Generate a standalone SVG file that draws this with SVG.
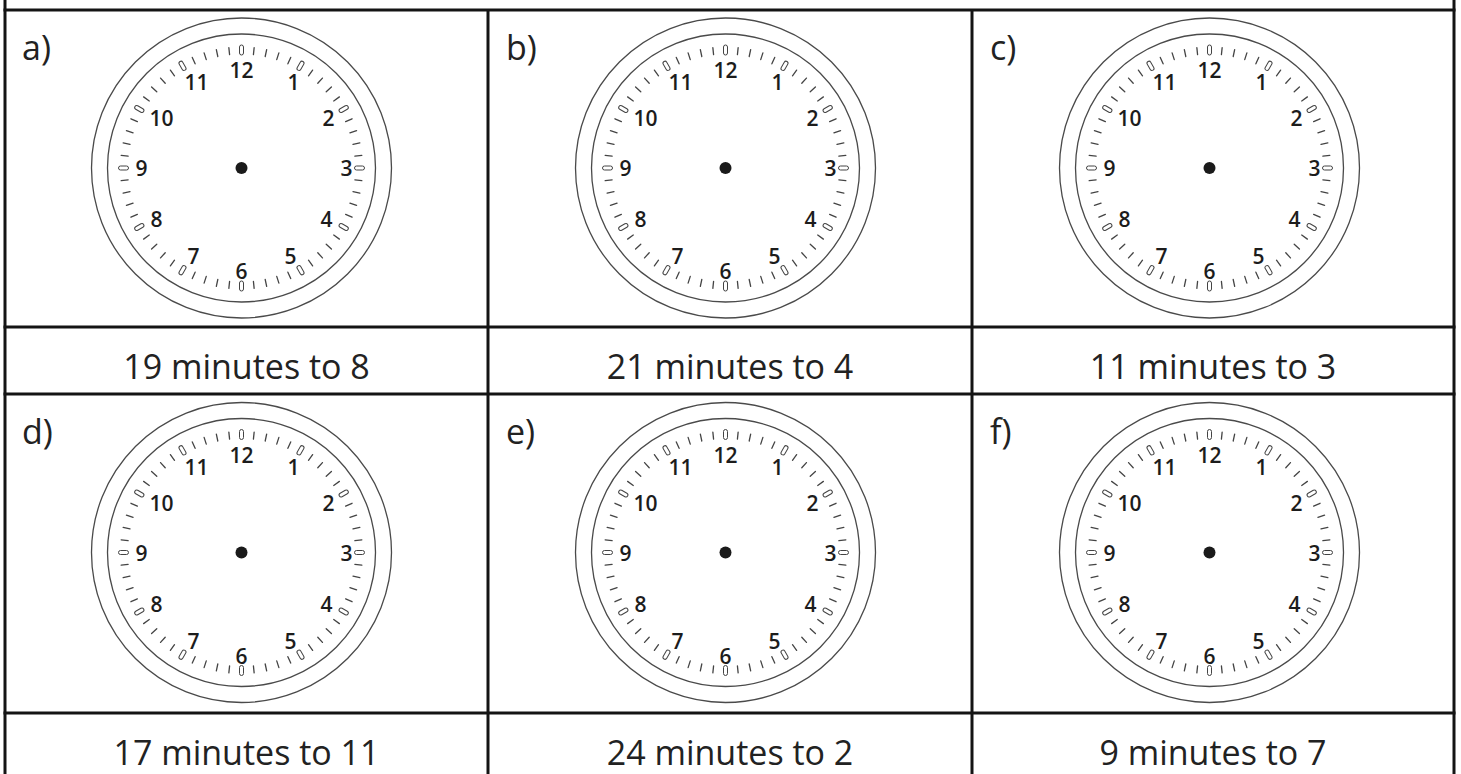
<svg xmlns="http://www.w3.org/2000/svg" xmlns:xlink="http://www.w3.org/1999/xlink" width="1461" height="774" viewBox="0 0 1461 774">
<style>
.grid{stroke:#141414;stroke-width:3;fill:none}
.ring{fill:none;stroke:#4a4a4a;stroke-width:1.3}
.mt{stroke:#444;stroke-width:1.3;stroke-linecap:round}
.ht{fill:none;stroke:#444;stroke-width:1}
.num{font-family:"Open Sans","Noto Sans",sans-serif;font-weight:600;font-size:21px;fill:#1c1c1c;text-anchor:middle}
.lbl{font-family:"Open Sans","Noto Sans",sans-serif;font-size:34px;fill:#222;text-anchor:middle}
.let{font-family:"Open Sans","Noto Sans",sans-serif;font-size:34px;fill:#222}
</style>
<defs>
<g id="face">
<circle class="ring" r="150"/>
<circle class="ring" r="134"/>
<g class="mt">
<line x1="0" y1="-114" x2="0" y2="-121" transform="rotate(6)"/>
<line x1="0" y1="-114" x2="0" y2="-121" transform="rotate(12)"/>
<line x1="0" y1="-114" x2="0" y2="-121" transform="rotate(18)"/>
<line x1="0" y1="-114" x2="0" y2="-121" transform="rotate(24)"/>
<line x1="0" y1="-114" x2="0" y2="-121" transform="rotate(36)"/>
<line x1="0" y1="-114" x2="0" y2="-121" transform="rotate(42)"/>
<line x1="0" y1="-114" x2="0" y2="-121" transform="rotate(48)"/>
<line x1="0" y1="-114" x2="0" y2="-121" transform="rotate(54)"/>
<line x1="0" y1="-114" x2="0" y2="-121" transform="rotate(66)"/>
<line x1="0" y1="-114" x2="0" y2="-121" transform="rotate(72)"/>
<line x1="0" y1="-114" x2="0" y2="-121" transform="rotate(78)"/>
<line x1="0" y1="-114" x2="0" y2="-121" transform="rotate(84)"/>
<line x1="0" y1="-114" x2="0" y2="-121" transform="rotate(96)"/>
<line x1="0" y1="-114" x2="0" y2="-121" transform="rotate(102)"/>
<line x1="0" y1="-114" x2="0" y2="-121" transform="rotate(108)"/>
<line x1="0" y1="-114" x2="0" y2="-121" transform="rotate(114)"/>
<line x1="0" y1="-114" x2="0" y2="-121" transform="rotate(126)"/>
<line x1="0" y1="-114" x2="0" y2="-121" transform="rotate(132)"/>
<line x1="0" y1="-114" x2="0" y2="-121" transform="rotate(138)"/>
<line x1="0" y1="-114" x2="0" y2="-121" transform="rotate(144)"/>
<line x1="0" y1="-114" x2="0" y2="-121" transform="rotate(156)"/>
<line x1="0" y1="-114" x2="0" y2="-121" transform="rotate(162)"/>
<line x1="0" y1="-114" x2="0" y2="-121" transform="rotate(168)"/>
<line x1="0" y1="-114" x2="0" y2="-121" transform="rotate(174)"/>
<line x1="0" y1="-114" x2="0" y2="-121" transform="rotate(186)"/>
<line x1="0" y1="-114" x2="0" y2="-121" transform="rotate(192)"/>
<line x1="0" y1="-114" x2="0" y2="-121" transform="rotate(198)"/>
<line x1="0" y1="-114" x2="0" y2="-121" transform="rotate(204)"/>
<line x1="0" y1="-114" x2="0" y2="-121" transform="rotate(216)"/>
<line x1="0" y1="-114" x2="0" y2="-121" transform="rotate(222)"/>
<line x1="0" y1="-114" x2="0" y2="-121" transform="rotate(228)"/>
<line x1="0" y1="-114" x2="0" y2="-121" transform="rotate(234)"/>
<line x1="0" y1="-114" x2="0" y2="-121" transform="rotate(246)"/>
<line x1="0" y1="-114" x2="0" y2="-121" transform="rotate(252)"/>
<line x1="0" y1="-114" x2="0" y2="-121" transform="rotate(258)"/>
<line x1="0" y1="-114" x2="0" y2="-121" transform="rotate(264)"/>
<line x1="0" y1="-114" x2="0" y2="-121" transform="rotate(276)"/>
<line x1="0" y1="-114" x2="0" y2="-121" transform="rotate(282)"/>
<line x1="0" y1="-114" x2="0" y2="-121" transform="rotate(288)"/>
<line x1="0" y1="-114" x2="0" y2="-121" transform="rotate(294)"/>
<line x1="0" y1="-114" x2="0" y2="-121" transform="rotate(306)"/>
<line x1="0" y1="-114" x2="0" y2="-121" transform="rotate(312)"/>
<line x1="0" y1="-114" x2="0" y2="-121" transform="rotate(318)"/>
<line x1="0" y1="-114" x2="0" y2="-121" transform="rotate(324)"/>
<line x1="0" y1="-114" x2="0" y2="-121" transform="rotate(336)"/>
<line x1="0" y1="-114" x2="0" y2="-121" transform="rotate(342)"/>
<line x1="0" y1="-114" x2="0" y2="-121" transform="rotate(348)"/>
<line x1="0" y1="-114" x2="0" y2="-121" transform="rotate(354)"/>
</g>
<g class="ht">
<rect x="-2" y="-123" width="4" height="10" rx="2"/>
<rect x="-2" y="-123" width="4" height="10" rx="2" transform="rotate(30)"/>
<rect x="-2" y="-123" width="4" height="10" rx="2" transform="rotate(60)"/>
<rect x="-2" y="-123" width="4" height="10" rx="2" transform="rotate(90)"/>
<rect x="-2" y="-123" width="4" height="10" rx="2" transform="rotate(120)"/>
<rect x="-2" y="-123" width="4" height="10" rx="2" transform="rotate(150)"/>
<rect x="-2" y="-123" width="4" height="10" rx="2" transform="rotate(180)"/>
<rect x="-2" y="-123" width="4" height="10" rx="2" transform="rotate(210)"/>
<rect x="-2" y="-123" width="4" height="10" rx="2" transform="rotate(240)"/>
<rect x="-2" y="-123" width="4" height="10" rx="2" transform="rotate(270)"/>
<rect x="-2" y="-123" width="4" height="10" rx="2" transform="rotate(300)"/>
<rect x="-2" y="-123" width="4" height="10" rx="2" transform="rotate(330)"/>
</g>
<g class="num">
<text x="0" y="-90">12</text>
<text x="52" y="-78">1</text>
<text x="87" y="-42">2</text>
<text x="105" y="8">3</text>
<text x="85" y="59">4</text>
<text x="49" y="96">5</text>
<text x="0" y="111">6</text>
<text x="-48" y="96">7</text>
<text x="-85" y="59">8</text>
<text x="-100" y="8">9</text>
<text x="-80" y="-42">10</text>
<text x="-45" y="-78">11</text>
</g>
<circle r="6" fill="#1a1a1a"/>
</g>
</defs>

<g id="grid">
<line class="grid" x1="3.5" y1="10" x2="1455.5" y2="10"/>
<line class="grid" x1="3.5" y1="327" x2="1455.5" y2="327"/>
<line class="grid" x1="3.5" y1="394" x2="1455.5" y2="394"/>
<line class="grid" x1="3.5" y1="713" x2="1455.5" y2="713"/>
<line class="grid" x1="5" y1="0" x2="5" y2="774"/>
<line class="grid" x1="488" y1="10" x2="488" y2="774"/>
<line class="grid" x1="972" y1="10" x2="972" y2="774"/>
<line class="grid" x1="1454" y1="0" x2="1454" y2="774"/>
</g>

<g id="cell-a">
<text class="let" x="22" y="60">a)</text>
<use xlink:href="#face" href="#face" x="241.5" y="168"/>
<text class="lbl" x="246.5" y="379">19 minutes to 8</text>
</g>
<g id="cell-b">
<text class="let" x="506" y="60">b)</text>
<use xlink:href="#face" href="#face" x="725.5" y="168"/>
<text class="lbl" x="730" y="379">21 minutes to 4</text>
</g>
<g id="cell-c">
<text class="let" x="990" y="60">c)</text>
<use xlink:href="#face" href="#face" x="1209.5" y="168"/>
<text class="lbl" x="1213" y="379">11 minutes to 3</text>
</g>
<g id="cell-d">
<text class="let" x="22" y="444">d)</text>
<use xlink:href="#face" href="#face" x="241.5" y="552.5"/>
<text class="lbl" x="246.5" y="765">17 minutes to 11</text>
</g>
<g id="cell-e">
<text class="let" x="506" y="444">e)</text>
<use xlink:href="#face" href="#face" x="725.5" y="552.5"/>
<text class="lbl" x="730" y="765">24 minutes to 2</text>
</g>
<g id="cell-f">
<text class="let" x="990" y="444">f)</text>
<use xlink:href="#face" href="#face" x="1209.5" y="552.5"/>
<text class="lbl" x="1213" y="765">9 minutes to 7</text>
</g>
</svg>
